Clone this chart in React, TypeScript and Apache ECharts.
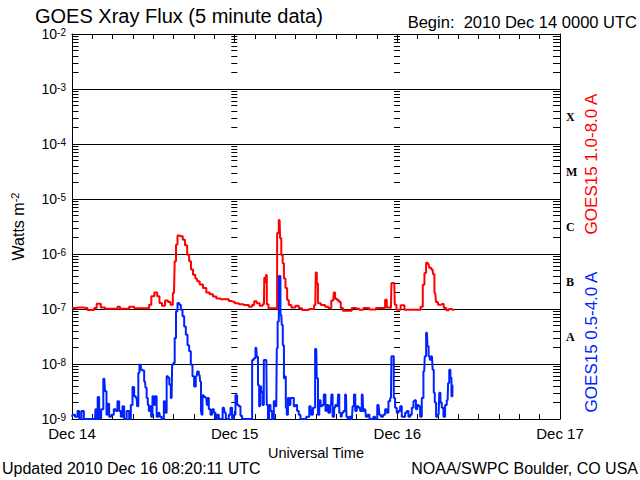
import React, { useEffect, useRef } from 'react';
import * as echarts from 'echarts';

// hours since 2010 Dec 14 00:00 UTC, flux in W m^-2
const dayLabels = ['Dec 14', 'Dec 15', 'Dec 16', 'Dec 17'];
const classLabels = ['A', 'B', 'C', 'M', 'X'];
const classMid = [3.16e-8, 3.16e-7, 3.16e-6, 3.16e-5, 3.16e-4];
const decadeExps = [-9, -8, -7, -6, -5, -4, -3];
const minorMults = [1, 2, 3, 4, 5, 6, 7, 8, 9];

const longFlux: [number, number][] = [
  [0, 1.04e-7], [1.0, 1.06e-7], [2.16, 1.04e-7], [2.41, 0.96e-7], [3.15, 0.96e-7], [3.39, 1.04e-7],
  [3.88, 1.25e-7], [4.13, 1.25e-7], [4.38, 1.07e-7], [4.62, 1.07e-7], [5.11, 1.01e-7], [6.59, 1.01e-7],
  [6.83, 1.1e-7], [7.33, 1.01e-7], [8.31, 1.01e-7], [8.56, 1.1e-7], [9.05, 1.1e-7], [9.29, 1.03e-7],
  [11.26, 1.03e-7], [11.51, 1.2e-7], [11.9, 1.7e-7], [12.39, 2.0e-7], [12.73, 1.7e-7], [13.08, 1.29e-7],
  [13.47, 1.15e-7], [13.97, 1.42e-7], [14.36, 1.34e-7], [14.7, 1.2e-7], [15.05, 1.95e-7], [15.25, 7.4e-7],
  [15.44, 1.48e-6], [15.69, 2.18e-6], [16.18, 2.1e-6], [16.52, 1.82e-6], [16.82, 1.44e-6], [17.16, 9.7e-7],
  [17.41, 7.4e-7], [17.7, 5.2e-7], [18.0, 4.2e-7], [18.39, 3.6e-7],
  [18.59, 3.2e-7], [19.08, 2.8e-7], [19.57, 2.4e-7], [20.06, 2.0e-7], [20.55, 1.85e-7], [21.05, 1.68e-7],
  [21.54, 1.56e-7], [22.3, 1.5e-7], [23.01, 1.5e-7], [23.26, 1.4e-7], [23.75, 1.36e-7], [24.24, 1.27e-7],
  [24.98, 1.22e-7], [25.71, 1.18e-7], [26.45, 1.1e-7], [26.7, 1.18e-7], [27.05, 1.38e-7], [27.44, 1.27e-7],
  [27.93, 1.15e-7], [28.32, 1.22e-7], [28.42, 3.7e-7], [28.57, 3.05e-7], [28.67, 4.15e-7], [28.81, 1.22e-7],
  [29.16, 1.03e-7], [30.14, 1.03e-7], [30.39, 2.4e-6], [30.63, 4.15e-6], [30.78, 1.93e-6], [30.98, 9.6e-7],
  [31.17, 6.8e-7], [31.37, 3.6e-7], [31.62, 2.4e-7], [31.86, 1.46e-7], [32.11, 1.18e-7], [32.6, 1.07e-7],
  [33.34, 1.15e-7], [33.58, 1.03e-7], [34.32, 0.96e-7], [35.55, 1.0e-7], [35.9, 1.18e-7], [36.04, 4.6e-7],
  [36.19, 2.9e-7], [36.39, 1.27e-7], [37.03, 1.18e-7], [37.66, 1.1e-7],
  [37.96, 1.04e-7], [38.55, 1.42e-7], [38.7, 2.0e-7], [38.94, 1.54e-7], [39.29, 1.44e-7], [39.53, 1.34e-7],
  [39.78, 1.04e-7], [40.17, 0.93e-7], [41.16, 0.93e-7], [41.4, 1.04e-7], [42.14, 1.01e-7], [42.63, 0.97e-7],
  [43.37, 1.04e-7], [44.35, 0.98e-7], [45.33, 1.04e-7], [46.07, 1.04e-7], [46.32, 1.48e-7], [46.57, 1.07e-7],
  [47.06, 1.04e-7], [47.2, 2.97e-7], [47.55, 2.97e-7], [47.7, 1.2e-7], [48.04, 0.97e-7], [48.93, 1.17e-7],
  [49.17, 0.97e-7], [51.24, 0.97e-7], [51.63, 1.1e-7], [51.88, 2.77e-7], [52.12, 4.5e-7], [52.37, 6.9e-7],
  [52.61, 6.6e-7], [52.81, 5.6e-7], [53.2, 5.2e-7], [53.35, 4.3e-7], [53.6, 1.95e-7], [53.8, 1.34e-7],
  [54.19, 1.2e-7], [54.68, 1.23e-7], [55.02, 1.04e-7], [55.42, 0.95e-7], [55.76, 1.0e-7], [56.4, 0.97e-7],
];

const shortFlux: [number, number][] = [
  [0.0, 1.1e-9], [0.2, 1.2e-9], [0.69, 1.1e-9], [0.93, 1.4e-9], [1.2, 1.0e-9], [1.57, 1.4e-9], [1.92, 1.0e-9],
  [2.66, 1.0e-9], [3.39, 1.0e-9], [3.54, 1.5e-9], [3.7, 1.0e-9], [3.88, 2.5e-9], [4.13, 1.0e-9], [4.47, 1.5e-9],
  [4.77, 5.4e-9], [4.97, 3.2e-9], [5.21, 1.2e-9], [5.36, 1.9e-9], [5.6, 1.1e-9], [6.0, 1.2e-9], [6.34, 1.5e-9],
  [6.59, 1.4e-9], [6.83, 2.1e-9], [7.08, 1.4e-9], [7.33, 1.1e-9], [7.57, 1.7e-9], [7.82, 1.0e-9], [8.31, 1.4e-9],
  [8.56, 1.0e-9], [8.8, 1.8e-9], [9.05, 3.8e-9], [9.29, 2.6e-9], [9.54, 2.4e-9], [9.69, 1.7e-9], [9.88, 6.9e-9],
  [10.03, 9.7e-9], [10.28, 7.9e-9], [10.52, 7.6e-9], [10.77, 4.8e-9], [10.92, 3.7e-9], [11.11, 2.4e-9],
  [11.26, 1.8e-9], [11.41, 1.4e-9], [11.6, 1.7e-9], [11.75, 1.1e-9], [12.0, 2.6e-9], [12.24, 1.8e-9],
  [12.39, 2.6e-9], [12.59, 1.1e-9], [12.88, 1.3e-9], [13.08, 1.1e-9], [13.38, 1.0e-9], [13.72, 2.1e-9],
  [13.87, 1.3e-9], [14.06, 6.0e-9], [14.26, 5.6e-9], [14.46, 4.2e-9], [14.7, 2.4e-9], [14.85, 9.7e-9],
  [15.05, 1.04e-8], [15.25, 2.97e-8], [15.44, 9.1e-8], [15.69, 1.29e-7], [15.93, 1.2e-7], [16.18, 9.7e-8],
  [16.43, 7.4e-8], [16.67, 4.8e-8], [16.92, 3.4e-8], [17.16, 2.2e-8], [17.41, 1.7e-8], [17.65, 9.7e-9],
  [17.9, 6.0e-9], [18.14, 3.9e-9], [18.39, 6.0e-9],
  [18.59, 7.3e-9], [18.83, 6.3e-9], [18.98, 4.8e-9], [19.08, 1.4e-9], [19.18, 1.2e-9], [19.32, 2.7e-9],
  [19.57, 2.5e-9], [19.82, 2.4e-9], [19.96, 1.8e-9], [20.06, 2.4e-9], [20.31, 1.5e-9], [20.55, 1.2e-9],
  [20.8, 1.5e-9], [21.05, 1.3e-9], [21.29, 1.0e-9], [21.54, 1.2e-9], [21.78, 1.0e-9], [22.03, 1.0e-9],
  [22.42, 1.6e-9], [22.62, 1.3e-9], [22.77, 1.0e-9], [23.01, 1.0e-9], [23.26, 1.2e-9], [23.5, 1.6e-9],
  [23.75, 1.0e-9], [24.0, 1.2e-9], [24.24, 2.7e-9], [24.49, 1.8e-9], [24.73, 1.7e-9], [24.98, 1.15e-9],
  [25.22, 1.0e-9], [25.47, 1.0e-9], [26.45, 1.0e-9], [26.7, 1.18e-8], [26.95, 1.27e-8], [27.19, 1.98e-8],
  [27.34, 1.36e-8], [27.54, 4.1e-9], [27.68, 1.7e-9], [27.83, 3.9e-9], [28.03, 3.1e-9], [28.18, 1.8e-9],
  [28.42, 1.18e-8], [28.67, 1.18e-8], [28.81, 1.8e-9], [29.01, 1.0e-9], [29.16, 1.8e-9], [29.4, 1.4e-9],
  [29.65, 1.0e-9], [29.9, 2.1e-9], [30.14, 1.7e-9], [30.29, 1.93e-8], [30.39, 5.9e-8], [30.63, 4.0e-7],
  [30.88, 7.8e-8], [31.03, 5.1e-8], [31.17, 2.2e-8], [31.37, 5.5e-9], [31.47, 5.9e-9], [31.62, 1.6e-9],
  [31.76, 1.2e-9], [31.96, 2.4e-9], [32.11, 1.8e-9], [32.35, 2.4e-9], [32.6, 2.4e-9], [32.85, 1.7e-9],
  [33.09, 1.8e-9], [33.34, 1.4e-9], [33.58, 1.2e-9], [33.83, 1.0e-9], [34.32, 1.0e-9], [34.81, 1.1e-9],
  [35.21, 1.7e-9], [35.4, 1.2e-9], [35.7, 1.6e-9], [36.04, 1.87e-8], [36.19, 5.5e-9], [36.39, 1.2e-9],
  [36.58, 2.2e-9], [36.78, 1.7e-9], [37.03, 1.8e-9], [37.27, 2.8e-9], [37.52, 1.4e-9], [37.66, 1.8e-9],
  [37.96, 1.3e-9], [38.21, 1.8e-9], [38.35, 2.8e-9], [38.55, 1.1e-9], [38.8, 1.6e-9], [38.94, 1.8e-9],
  [39.19, 1.7e-9], [39.34, 2.8e-9], [39.53, 1.3e-9], [39.78, 1.1e-9], [39.93, 1.3e-9], [40.17, 1.4e-9],
  [40.42, 2.8e-9], [40.57, 1.1e-9], [40.81, 1.0e-9], [41.01, 1.1e-9], [41.3, 1.0e-9], [41.5, 1.7e-9],
  [41.7, 2.8e-9], [41.89, 1.4e-9], [42.14, 1.7e-9], [42.39, 1.6e-9], [42.63, 1.4e-9], [42.88, 2.8e-9],
  [43.03, 1.4e-9], [43.27, 1.5e-9], [43.47, 1.1e-9], [43.76, 1.2e-9], [44.01, 1.0e-9], [44.35, 1.0e-9],
  [44.6, 1.1e-9], [44.84, 1.0e-9], [45.24, 1.8e-9], [45.43, 1.2e-9], [45.73, 1.1e-9], [46.07, 1.2e-9],
  [46.32, 1.5e-9], [46.57, 1.3e-9], [46.81, 2.1e-9], [47.06, 2.4e-9], [47.2, 1.38e-8], [47.4, 1.38e-8],
  [47.55, 2.4e-9], [47.79, 1.6e-9], [48.04, 1.3e-9], [48.29, 1.4e-9], [48.53, 1.7e-9], [48.78, 1.1e-9],
  [49.02, 1.1e-9], [49.27, 1.3e-9], [49.52, 1.4e-9], [49.76, 1.1e-9], [50.01, 1.2e-9], [50.25, 1.6e-9],
  [50.5, 2.1e-9], [50.65, 2.2e-9], [50.84, 1.5e-9], [51.04, 1.8e-9], [51.24, 1.7e-9], [51.48, 1.1e-9],
  [51.73, 2.4e-9], [51.97, 7.4e-9], [52.12, 1.38e-8], [52.37, 3.7e-8], [52.52, 2.1e-8], [52.71, 1.38e-8],
  [52.86, 1.2e-8], [53.11, 1.38e-8], [53.3, 7.9e-9], [53.45, 3.0e-9], [53.6, 2.0e-9], [53.84, 1.1e-9],
  [54.09, 1.2e-9], [54.29, 3.0e-9], [54.43, 2.0e-9], [54.68, 1.6e-9], [54.92, 1.1e-9], [55.17, 1.8e-9],
  [55.42, 2.2e-9], [55.56, 4.5e-9], [55.76, 7.9e-9], [55.91, 5.6e-9], [56.06, 2.6e-9], [56.2, 4.2e-9],
];

const FONT = 'Liberation Sans';

export default function App() {
  const ref = useRef<HTMLDivElement>(null);
  useEffect(() => {
    if (!ref.current) return;
    const chart = echarts.init(ref.current, undefined, { renderer: 'svg' });

    const logTicks: number[] = [];
    decadeExps.forEach((e) => minorMults.forEach((m) => logTicks.push(m * Math.pow(10, e))));
    logTicks.push(1e-2);

    const black = { color: '#000', width: 1 };
    const baseY = {
      type: 'log' as const,
      gridIndex: 0,
      min: 1e-9,
      max: 1e-2,
      logBase: 10,
      splitLine: { show: false },
    };
    const tickAxis = (offset: number, length: number, inside: boolean) => ({
      ...baseY, position: 'left', offset,
      axisLine: { show: false, onZero: false },
      axisTick: { show: true, inside, length, lineStyle: black, customValues: logTicks },
      axisLabel: { show: false },
    });

    const option: any = {
      animation: false,
      backgroundColor: '#fff',
      grid: { left: 72, right: 80, top: 34, bottom: 61, containLabel: false, outerBoundsMode: 'none' },
      xAxis: [
        {
          type: 'value', min: 0, max: 72, interval: 24, position: 'bottom',
          axisLine: { show: true, onZero: false, lineStyle: black },
          axisTick: { show: true, inside: true, length: 8, lineStyle: black },
          minorTick: { show: true, splitNumber: 8, length: 5, lineStyle: black },
          splitLine: { show: false },
          axisLabel: {
            color: '#000', fontFamily: FONT, fontSize: 15, margin: 7,
            formatter: (v: number) => dayLabels[Math.round(v / 24)],
          },
          name: 'Universal Time', nameLocation: 'middle', nameGap: 23,
          nameTextStyle: { color: '#000', fontFamily: FONT, fontSize: 14.5 },
        },
        {
          type: 'value', min: 0, max: 72, interval: 24, position: 'top',
          axisLine: { show: true, onZero: false, lineStyle: black },
          axisTick: { show: true, inside: true, length: 8, lineStyle: black },
          minorTick: { show: true, splitNumber: 8, length: 5, lineStyle: black },
          splitLine: { show: false },
          axisLabel: { show: false },
        },
      ],
      yAxis: [
        {
          ...baseY, position: 'left', interval: 1,
          axisLine: { show: true, onZero: false, lineStyle: black },
          axisTick: { show: true, inside: true, length: 7, lineStyle: black },
          splitLine: { show: true, lineStyle: black },
          axisLabel: {
            margin: 6,
            formatter: (v: number) => `{b|10}{s|${Math.round(Math.log10(v))}}`,
            rich: {
              b: { fontFamily: FONT, fontSize: 14, color: '#000', lineHeight: 14 },
              s: { fontFamily: FONT, fontSize: 10, color: '#000', verticalAlign: 'top', lineHeight: 10 },
            },
          },
          name: '{a|Watts m}{s|-2}', nameLocation: 'middle', nameRotate: 90, nameGap: 45,
          nameTextStyle: {
            rich: {
              a: { fontFamily: FONT, fontSize: 16, color: '#000', lineHeight: 18 },
              s: { fontFamily: FONT, fontSize: 11, color: '#000', verticalAlign: 'top', lineHeight: 11 },
            },
          },
        },
        {
          ...baseY, position: 'right',
          axisLine: { show: true, onZero: false, lineStyle: black },
          axisTick: { show: false },
          axisLabel: {
            show: true, margin: 6, customValues: classMid,
            fontFamily: 'Liberation Serif', fontWeight: 'bold', fontSize: 12, color: '#000',
            formatter: (v: number) => classLabels[Math.floor(Math.log10(v)) + 8] ?? '',
          },
        },
        tickAxis(-0.5, 6, true),
        tickAxis(-159.3, 6, true),
        tickAxis(-322, 6, true),
        tickAxis(-488, 7, false),
      ],
      series: [
        {
          name: 'GOES15 1.0-8.0 A', type: 'line', xAxisIndex: 0, yAxisIndex: 0,
          data: longFlux, step: 'middle', showSymbol: false, symbol: 'none',
          lineStyle: { color: '#ff0000', width: 2 }, itemStyle: { color: '#ff0000' },
        },
        {
          name: 'GOES15 0.5-4.0 A', type: 'line', xAxisIndex: 0, yAxisIndex: 0,
          data: shortFlux, step: 'middle', showSymbol: false, symbol: 'none',
          lineStyle: { color: '#0022ff', width: 2 }, itemStyle: { color: '#0022ff' },
        },
      ],
      graphic: [
        { type: 'text', left: 35, top: 6, style: { text: 'GOES Xray Flux (5 minute data)', fontFamily: FONT, fontSize: 20, lineHeight: 20, fill: '#000' } },
        { type: 'text', right: 3, top: 13, style: { text: 'Begin:  2010 Dec 14 0000 UTC', fontFamily: FONT, fontSize: 16.5, fill: '#000' } },
        { type: 'text', left: 2, top: 460, style: { text: 'Updated 2010 Dec 16 08:20:11 UTC', fontFamily: FONT, fontSize: 16, fill: '#000' } },
        { type: 'text', right: 2, top: 460, style: { text: 'NOAA/SWPC Boulder, CO USA', fontFamily: FONT, fontSize: 16, fill: '#000' } },
        { type: 'text', x: 591, y: 164, rotation: Math.PI / 2, style: { text: 'GOES15 1.0-8.0 A', fontFamily: FONT, fontSize: 17, fill: '#ff0000', align: 'center', verticalAlign: 'middle' } },
        { type: 'text', x: 591, y: 342, rotation: Math.PI / 2, style: { text: 'GOES15 0.5-4.0 A', fontFamily: FONT, fontSize: 17, fill: '#0022ff', align: 'center', verticalAlign: 'middle' } },
      ],
    };
    chart.setOption(option);
    return () => chart.dispose();
  }, []);
  return <div ref={ref} style={{ position: 'fixed', left: 0, top: 0, width: 640, height: 480, background: '#fff' }} />;
}
